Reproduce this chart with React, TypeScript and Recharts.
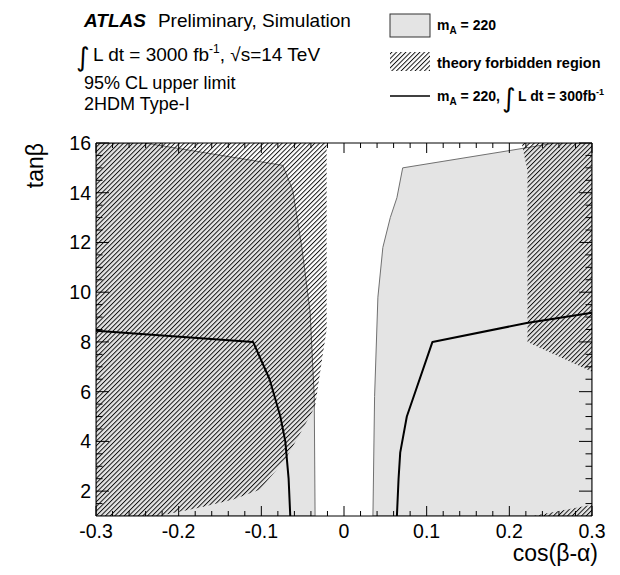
import { ScatterChart, Scatter, XAxis, YAxis } from 'recharts';

type Pt = { x: number; y: number };

// m_A = 220 expected exclusion, 3000 fb-1 (cos(b-a), tanb)
const fillLeftCos = [-0.3, -0.3, -0.241, -0.074, -0.062, -0.051, -0.041, -0.036, -0.035];
const fillLeftTan = [1, 16, 16, 15.1, 14.1, 11.8, 9.2, 5.8, 1];
const fillRightCos = [0.035, 0.037, 0.041, 0.047, 0.056, 0.064, 0.071, 0.201, 0.255, 0.3, 0.3];
const fillRightTan = [1, 5.8, 9.8, 11.8, 13.0, 13.8, 15.0, 15.7, 16, 16, 1];

// theory forbidden region
const forbidLeftCos = [-0.3, -0.021, -0.021, -0.027, -0.035, -0.05, -0.071, -0.102, -0.134, -0.174, -0.21, -0.223, -0.3];
const forbidLeftTan = [16, 16, 8.5, 7.2, 5.4, 4.5, 3.27, 2.06, 1.66, 1.34, 1.1, 1, 1];
const forbidRightCos = [0.215, 0.218, 0.222, 0.222, 0.3, 0.3];
const forbidRightTan = [16, 15.5, 14.9, 8.0, 6.8, 16];
const forbidCornerCos = [0.228, 0.3, 0.3];
const forbidCornerTan = [1, 1.45, 1];

// m_A = 220, 300 fb-1 contour
const lumiLeftCos = [-0.3, -0.11, -0.09, -0.077, -0.071, -0.067, -0.065];
const lumiLeftTan = [8.45, 8.0, 6.5, 5.0, 4.0, 2.5, 1];
const lumiRightCos = [0.064, 0.066, 0.068, 0.076, 0.107, 0.221, 0.3];
const lumiRightTan = [1, 2.5, 3.55, 5.0, 8.0, 8.76, 9.17];

const xLabels = ['-0.3', '-0.2', '-0.1', '0', '0.1', '0.2', '0.3'];
const yLabels = ['2', '4', '6', '8', '10', '12', '14', '16'];

// minor ticks every 0.02 in x, every 0.5 in y
const xTicks = Array.from({ length: 31 }, (_, i) => Number((-0.3 + i * 0.02).toFixed(2)));
const yTicks = Array.from({ length: 30 }, (_, i) => 1.5 + i * 0.5);

const FONT = '"Liberation Sans", Arial, Helvetica, sans-serif';
const GRAY = '#e4e4e4';

const zip = (xs: number[], ys: number[]): Pt[] => xs.map((x, i) => ({ x, y: ys[i] }));

const toPath = (pts: Pt[], close: boolean) =>
  pts.map((p, i) => `${i ? 'L' : 'M'}${p.x},${p.y}`).join('') + (close ? 'Z' : '');

const polygon = (fill: string, stroke: string, strokeWidth: number) => (props: any) => {
  const pts: Pt[] = props.points ?? [];
  if (!pts.length) return <g />;
  return <path d={toPath(pts, true)} fill={fill} stroke={stroke} strokeWidth={strokeWidth} />;
};

const polyline = (props: any) => {
  const pts: Pt[] = props.points ?? [];
  if (!pts.length) return <g />;
  return <path d={toPath(pts, false)} fill="none" stroke="#000" strokeWidth={2} strokeLinejoin="round" />;
};

const NoDot = () => null;

const xMajorIndex = (v: number) => {
  const k = Math.round(v * 10);
  return Math.abs(v * 10 - k) < 1e-6 ? k + 3 : -1;
};

// ticks point into the frame; the axis line sits at the given x/y since tickSize/tickMargin are 0
function BottomTick(props: any) {
  const { x, y, payload } = props;
  const idx = xMajorIndex(payload.value);
  return (
    <g>
      <line x1={x} x2={x} y1={y} y2={y - (idx >= 0 ? 10 : 5)} stroke="#000" />
      {idx >= 0 && (
        <text x={x} y={y + 22} textAnchor="middle" fontSize={19.5} fontFamily={FONT} fill="#000">
          {xLabels[idx]}
        </text>
      )}
    </g>
  );
}

function TopTick(props: any) {
  const { x, y, payload } = props;
  const major = xMajorIndex(payload.value) >= 0;
  return <line x1={x} x2={x} y1={y} y2={y + (major ? 10 : 5)} stroke="#000" />;
}

function LeftTick(props: any) {
  const { x, y, payload } = props;
  const v = payload.value;
  const major = v % 2 === 0;
  return (
    <g>
      <line x1={x} x2={x + (major ? 13 : 6.5)} y1={y} y2={y} stroke="#000" />
      {major && (
        <text x={x - 5} y={y + 7} textAnchor="end" fontSize={19.5} fontFamily={FONT} fill="#000">
          {yLabels[v / 2 - 1]}
        </text>
      )}
    </g>
  );
}

function RightTick(props: any) {
  const { x, y, payload } = props;
  const major = payload.value % 2 === 0;
  return <line x1={x} x2={x - (major ? 13 : 6.5)} y1={y} y2={y} stroke="#000" />;
}

function Header() {
  return (
    <svg
      width={620}
      height={575}
      style={{ position: 'absolute', left: 0, top: 0, pointerEvents: 'none' }}
      fontFamily={FONT}
    >
      <defs>
        <pattern
          id="forbidden-hatch"
          patternUnits="userSpaceOnUse"
          width={3.3}
          height={10}
          patternTransform="rotate(45)"
        >
          <line x1={0.5} y1={0} x2={0.5} y2={10} stroke="#000" strokeWidth={0.9} />
        </pattern>
      </defs>

      <text x={84} y={27} fontSize={19} fill="#000">
        <tspan fontWeight="bold" fontStyle="italic">ATLAS</tspan>
        <tspan dx={12}>Preliminary, Simulation</tspan>
      </text>
      <text x={76} y={66} fontSize={26} fontFamily="DejaVu Sans" fill="#000">∫</text>
      <text x={93} y={61} fontSize={19} fill="#000">
        L dt = 3000 fb
        <tspan fontSize={12} dy={-8}>-1</tspan>
        <tspan dy={8}>, √s=14 TeV</tspan>
      </text>
      <text x={84} y={89} fontSize={18} fill="#000">95% CL upper limit</text>
      <text x={84} y={110} fontSize={18} fill="#000">2HDM Type-I</text>

      <rect x={390} y={14} width={40} height={23} fill={GRAY} stroke="#333" strokeWidth={1} />
      <text x={437} y={30} fontSize={14} fontWeight="bold" fill="#000">
        m<tspan fontSize={10} dy={4}>A</tspan>
        <tspan dy={-4}> = 220</tspan>
      </text>

      <rect x={390} y={52} width={40} height={19} fill="url(#forbidden-hatch)" />
      <text x={437} y={68} fontSize={14.5} fontWeight="bold" fill="#000">
        theory forbidden region
      </text>

      <line x1={390} x2={430} y1={96} y2={96} stroke="#000" strokeWidth={1.5} />
      <text x={437} y={101} fontSize={14} fontWeight="bold" fill="#000">
        m<tspan fontSize={10} dy={4}>A</tspan>
        <tspan dy={-4}> = 220,</tspan>
      </text>
      <text x={502} y={107} fontSize={26} fontFamily="DejaVu Sans" fill="#000">∫</text>
      <text x={518} y={101} fontSize={14} fontWeight="bold" fill="#000">
        L dt = 300fb<tspan fontSize={9} dy={-6}>-1</tspan>
      </text>

      <text
        x={43}
        y={143}
        fontSize={23}
        textAnchor="end"
        transform="rotate(-90 43 143)"
        fill="#000"
      >
        tanβ
      </text>
      <text x={598} y={561} fontSize={23} textAnchor="end" fill="#000">cos(β-α)</text>
    </svg>
  );
}

export default function App() {
  const hatch = 'url(#forbidden-hatch)';
  return (
    <div style={{ position: 'absolute', left: 0, top: 0, width: 620, height: 575, background: '#fff' }}>
      <ScatterChart width={620} height={575} margin={{ top: 133, right: 18, bottom: 29, left: 36 }}>
        <Scatter data={zip(fillLeftCos, fillLeftTan)} shape={NoDot} line={polygon(GRAY, '#707070', 1)} isAnimationActive={false} zIndex={100} />
        <Scatter data={zip(fillRightCos, fillRightTan)} shape={NoDot} line={polygon(GRAY, '#707070', 1)} isAnimationActive={false} zIndex={100} />
        <Scatter data={zip(forbidLeftCos, forbidLeftTan)} shape={NoDot} line={polygon(hatch, 'none', 0)} isAnimationActive={false} zIndex={110} />
        <Scatter data={zip(forbidRightCos, forbidRightTan)} shape={NoDot} line={polygon(hatch, 'none', 0)} isAnimationActive={false} zIndex={110} />
        <Scatter data={zip(forbidCornerCos, forbidCornerTan)} shape={NoDot} line={polygon(hatch, 'none', 0)} isAnimationActive={false} zIndex={110} />
        <Scatter data={zip(lumiLeftCos, lumiLeftTan)} shape={NoDot} line={polyline} isAnimationActive={false} zIndex={120} />
        <Scatter data={zip(lumiRightCos, lumiRightTan)} shape={NoDot} line={polyline} isAnimationActive={false} zIndex={120} />

        <XAxis
          type="number"
          dataKey="x"
          domain={[-0.3, 0.3]}
          allowDataOverflow
          ticks={xTicks}
          interval={0}
          height={30}
          tickSize={0}
          tickMargin={0}
          tickLine={false}
          tick={<BottomTick />}
          axisLine={{ stroke: '#000' }}
        />
        <XAxis
          xAxisId="top"
          orientation="top"
          type="number"
          dataKey="x"
          domain={[-0.3, 0.3]}
          allowDataOverflow
          ticks={xTicks}
          interval={0}
          height={10}
          tickSize={0}
          tickMargin={0}
          tickLine={false}
          tick={<TopTick />}
          axisLine={{ stroke: '#000' }}
        />
        <YAxis
          type="number"
          dataKey="y"
          domain={[1, 16]}
          allowDataOverflow
          ticks={yTicks}
          interval={0}
          width={60}
          tickSize={0}
          tickMargin={0}
          tickLine={false}
          tick={<LeftTick />}
          axisLine={{ stroke: '#000' }}
        />
        <YAxis
          yAxisId="right"
          orientation="right"
          type="number"
          dataKey="y"
          domain={[1, 16]}
          allowDataOverflow
          ticks={yTicks}
          interval={0}
          width={10}
          tickSize={0}
          tickMargin={0}
          tickLine={false}
          tick={<RightTick />}
          axisLine={{ stroke: '#000' }}
        />
      </ScatterChart>
      <Header />
    </div>
  );
}
